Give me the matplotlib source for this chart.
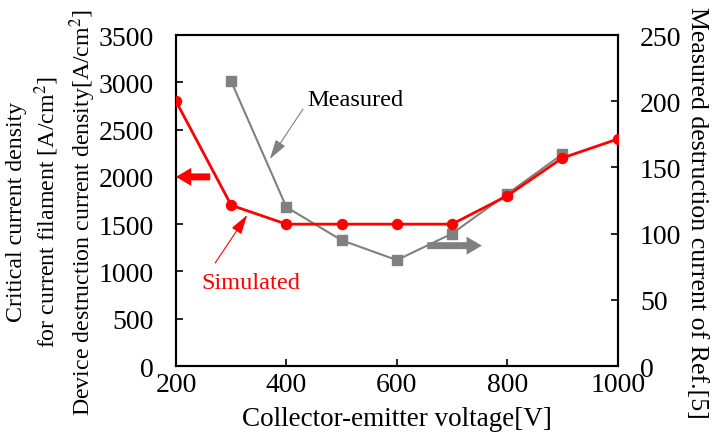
import matplotlib
matplotlib.use("Agg")
import matplotlib.pyplot as plt

plt.rcParams['font.family'] = 'serif'
plt.rcParams['font.serif'] = ['Liberation Serif', 'DejaVu Serif']
plt.rcParams['mathtext.fontset'] = 'stix'
plt.rcParams['font.size'] = 20

# Data
sim_v = [200, 300, 400, 500, 600, 700, 800, 900, 1000]
sim_j = [2800, 1700, 1500, 1500, 1500, 1500, 1800, 2200, 2400]
meas_v = [300, 400, 500, 600, 700, 800, 900]
meas_i = [215, 120, 95, 80, 100, 130, 160]

red = '#FF0000'
gray = '#808080'

fig = plt.figure(figsize=(7.26, 4.35), dpi=100)
ax = fig.add_axes([0.2424, 0.1563, 0.6084, 0.7609])
ax2 = ax.twinx()

ax.plot(sim_v, sim_j, color=red, lw=2, marker='o', ms=7.2, zorder=3)
ax2.plot(meas_v, meas_i, color=gray, lw=1.5, marker='s', ms=6.5, zorder=2)
ax.set_zorder(ax2.get_zorder() + 1)
ax.patch.set_visible(False)

ax.set_xlim(200, 1000)
ax.set_ylim(0, 3500)
ax2.set_ylim(0, 250)
ax.set_xticks(range(200, 1001, 200))
ax.set_yticks(range(0, 3501, 500))
ax2.set_yticks(range(0, 251, 50))

for a in (ax, ax2):
    a.tick_params(direction='in', length=5, width=1.2, labelsize=20)
    for s in a.spines.values():
        s.set_linewidth(1.5)
ax.tick_params(axis='y', pad=16)
ax2.tick_params(axis='y', pad=16)
ax.tick_params(axis='x', pad=4)

ax.set_xlabel('Collector-emitter voltage[V]', fontsize=19.5, labelpad=7)
fig.text(52 / 726, 1 - 212 / 435,
         'Critical current density\nfor current filament [A/cm$^2$]\n'
         'Device destruction current density[A/cm$^2$]',
         fontsize=17.2, linespacing=1.25, rotation=90,
         ha='center', va='center', multialignment='center')
fig.text(697 / 726, 1 - 213 / 435, 'Measured destruction current of Ref.[5]',
         fontsize=18.6, rotation=270, ha='center', va='center')

# axis-indicator arrows
arrow_style = 'simple,head_length=1.1,head_width=1.3,tail_width=0.5'
ax.annotate('', xy=(200, 2000), xytext=(262, 2000),
            arrowprops=dict(arrowstyle=arrow_style, color=red, lw=0,
                            mutation_scale=10, shrinkA=0, shrinkB=0))
ax2.annotate('', xy=(754, 90.9), xytext=(655, 90.9),
             arrowprops=dict(arrowstyle=arrow_style, color=gray, lw=0,
                             mutation_scale=10, shrinkA=0, shrinkB=0))

# series labels
pointer = '-|>,head_length=1.2,head_width=0.35'
ax.text(524, 2823, 'Measured', fontsize=17.5, ha='center', va='center')
ax.annotate('', xy=(370, 2189), xytext=(430, 2717),
            arrowprops=dict(arrowstyle=pointer, color=gray, lw=0.8,
                            mutation_scale=10, shrinkA=0, shrinkB=0))
ax.text(336, 888, 'Simulated', fontsize=17.5, ha='center', va='center', color=red)
ax.annotate('', xy=(329, 1597), xytext=(271, 1089),
            arrowprops=dict(arrowstyle=pointer, color=red, lw=0.8,
                            mutation_scale=10, shrinkA=0, shrinkB=0))

fig.savefig('out.png', dpi=100)
